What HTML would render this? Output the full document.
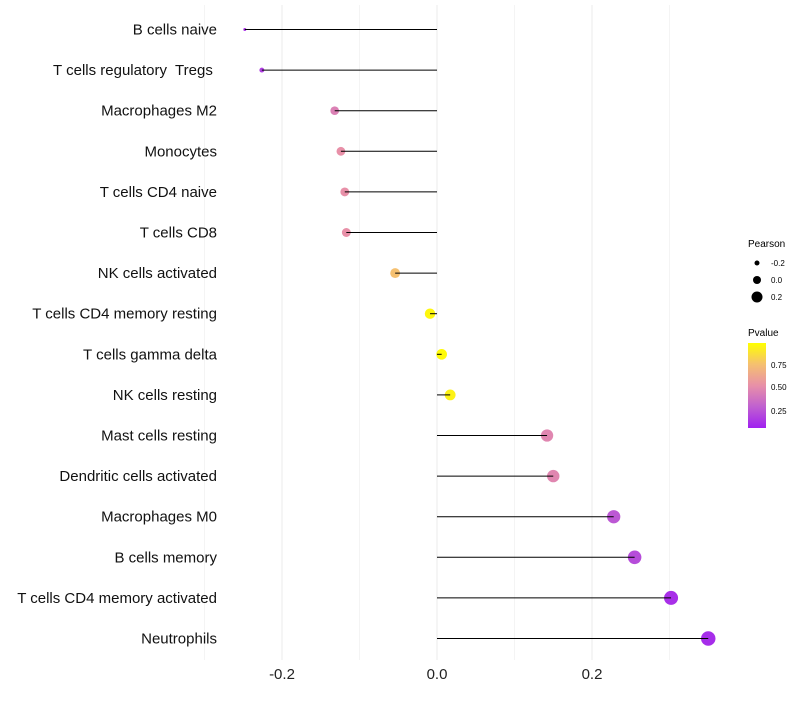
<!DOCTYPE html>
<html><head><meta charset="utf-8"><style>
body{margin:0;background:#fff;font-family:"Liberation Sans",sans-serif}
text{white-space:pre}
</style></head><body>
<svg id="c" width="800" height="700" xmlns="http://www.w3.org/2000/svg">
<defs><linearGradient id="pg" x1="0" y1="1" x2="0" y2="0">
<stop offset="0" stop-color="#a020f0"/><stop offset="0.25" stop-color="#c060d0"/><stop offset="0.5" stop-color="#e890a8"/><stop offset="0.75" stop-color="#f5c070"/><stop offset="1" stop-color="#ffff00"/></linearGradient></defs>
<g id="grid"></g><g id="marks"></g><g id="labels"></g>
<g>
<text x="748" y="247" font-size="10">Pearson</text>
<circle cx="757" cy="263" r="2.5" fill="#000"/><text x="771" y="266" font-size="8">-0.2</text>
<circle cx="757" cy="280" r="4" fill="#000"/><text x="771" y="283" font-size="8">0.0</text>
<circle cx="757" cy="297" r="5.5" fill="#000"/><text x="771" y="300" font-size="8">0.2</text>
<text x="748" y="336" font-size="10">Pvalue</text>
<rect x="748" y="343" width="18" height="85" fill="url(#pg)"/>
<text x="771" y="368" font-size="8">0.75</text><text x="771" y="390" font-size="8">0.50</text><text x="771" y="414" font-size="8">0.25</text>
</g>
</svg>
<script>
const cells=["B cells naive","T cells regulatory  Tregs ","Macrophages M2","Monocytes","T cells CD4 naive","T cells CD8","NK cells activated","T cells CD4 memory resting","T cells gamma delta","NK cells resting","Mast cells resting","Dendritic cells activated","Macrophages M0","B cells memory","T cells CD4 memory activated","Neutrophils"];
const pearson=[-0.248,-0.226,-0.132,-0.124,-0.119,-0.117,-0.054,-0.009,0.006,0.017,0.142,0.150,0.228,0.255,0.302,0.350];
const pvalue=[0.08,0.12,0.42,0.5,0.5,0.5,0.75,0.97,0.98,0.95,0.45,0.45,0.22,0.17,0.06,0.05];
const xTicks=[-0.2,0.0,0.2];
const NS="http://www.w3.org/2000/svg";
const X=v=>437+v*775, Y=i=>29.5+i*40.6, R=p=>Math.sqrt(Math.max(2.25,p<-0.2?(2.25+(p+0.248)*170):28+70*p));
function col(p){const s=[[0,[160,32,240]],[0.25,[192,96,208]],[0.5,[232,144,168]],[0.75,[245,192,112]],[1,[255,255,0]]];
 for(let k=1;k<s.length;k++){if(p<=s[k][0]){const t=(p-s[k-1][0])/(s[k][0]-s[k-1][0]);const a=s[k-1][1],b=s[k][1];return `rgb(${a.map((c,j)=>Math.round(c+(b[j]-c)*t)).join(',')})`;}}return "rgb(255,255,0)";}
function mk(t,a,par){const e=document.createElementNS(NS,t);for(const k in a)e.setAttribute(k,a[k]);document.getElementById(par).appendChild(e);return e;}
for(let v=-0.3;v<=0.31;v+=0.1){const l=mk("line",{x1:X(v),x2:X(v),y1:5,y2:660,stroke:Math.abs(Math.round(v*10))%2==0?"#ebebeb":"#f4f4f4","stroke-width":1},"grid");

}
xTicks.forEach(v=>{const t=mk("text",{x:X(v),y:679,"font-size":15,"text-anchor":"middle",fill:"#222"},"labels");t.textContent=v.toFixed(1);

});
cells.forEach((c,i)=>{
 const pt=mk("circle",{cx:X(pearson[i]),cy:Y(i),r:R(pearson[i]),fill:col(pvalue[i])},"marks");
 
 
 const ln=mk("line",{x1:X(0),x2:X(pearson[i]),y1:Y(i),y2:Y(i),stroke:"#000","stroke-width":1},"marks");
 
 
 const t=mk("text",{x:217,y:Y(i)+5,"font-size":15,"text-anchor":"end",fill:"#111"},"labels");t.textContent=c;
 
 
});
</script>
</body></html>
